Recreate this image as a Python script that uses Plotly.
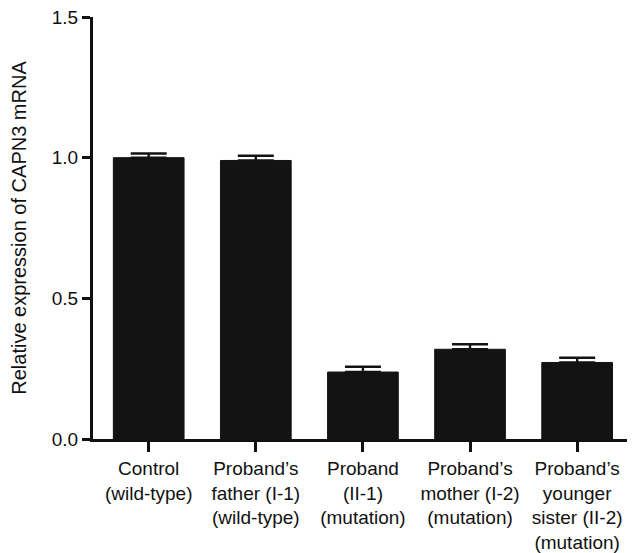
import plotly.graph_objects as go

categories = [
    "Control<br>(wild-type)",
    "Proband’s<br>father (I-1)<br>(wild-type)",
    "Proband<br>(II-1)<br>(mutation)",
    "Proband’s<br>mother (I-2)<br>(mutation)",
    "Proband’s<br>younger<br>sister (II-2)<br>(mutation)",
]
values = [1.0, 0.99, 0.238, 0.319, 0.272]
errors = [0.015, 0.017, 0.019, 0.018, 0.017]
y_ticks = [0.0, 0.5, 1.0, 1.5]
y_ticktext = ["0.0", "0.5", "1.0", "1.5"]

x_pos = list(range(len(categories)))

fig = go.Figure()
fig.add_trace(go.Bar(
    x=x_pos, y=values, width=0.66,
    marker=dict(color="#131313", line=dict(color="#131313", width=1)),
    error_y=dict(type="data", array=errors, arrayminus=[0] * len(errors),
                 symmetric=False, color="#131313", thickness=2.4, width=18),
    showlegend=False,
))

font = dict(family="Liberation Sans, Arial, Helvetica, sans-serif", size=19, color="#111111")
title_font = dict(family="Liberation Sans, Arial, Helvetica, sans-serif", size=20, color="#111111")

# page body adds an 8px offset; compensate so the figure fills the 635x553 window
fig.update_layout(
    width=627, height=545,
    margin=dict(l=85, r=0, t=9, b=114),
    paper_bgcolor="white", plot_bgcolor="white",
    font=font,
    xaxis=dict(
        range=[-0.52, 4.54], tickmode="array", tickvals=x_pos, ticktext=categories,
        showline=True, linecolor="#111111", linewidth=3,
        ticks="outside", ticklen=10, tickwidth=3, tickcolor="#111111",
        showgrid=False, zeroline=False, tickangle=0, tickfont=font,
        automargin=False, ticklabeloverflow="allow",
    ),
    yaxis=dict(
        range=[0, 1.5], tickmode="array", tickvals=y_ticks, ticktext=y_ticktext,
        showline=True, linecolor="#111111", linewidth=3,
        ticks="outside", ticklen=8, tickwidth=3, tickcolor="#111111",
        showgrid=False, zeroline=False, tickfont=font,
        automargin=False, ticklabeloverflow="allow",
        title=dict(text="Relative expression of CAPN3 mRNA", font=title_font, standoff=22),
    ),
)

fig.write_html("out.html")
